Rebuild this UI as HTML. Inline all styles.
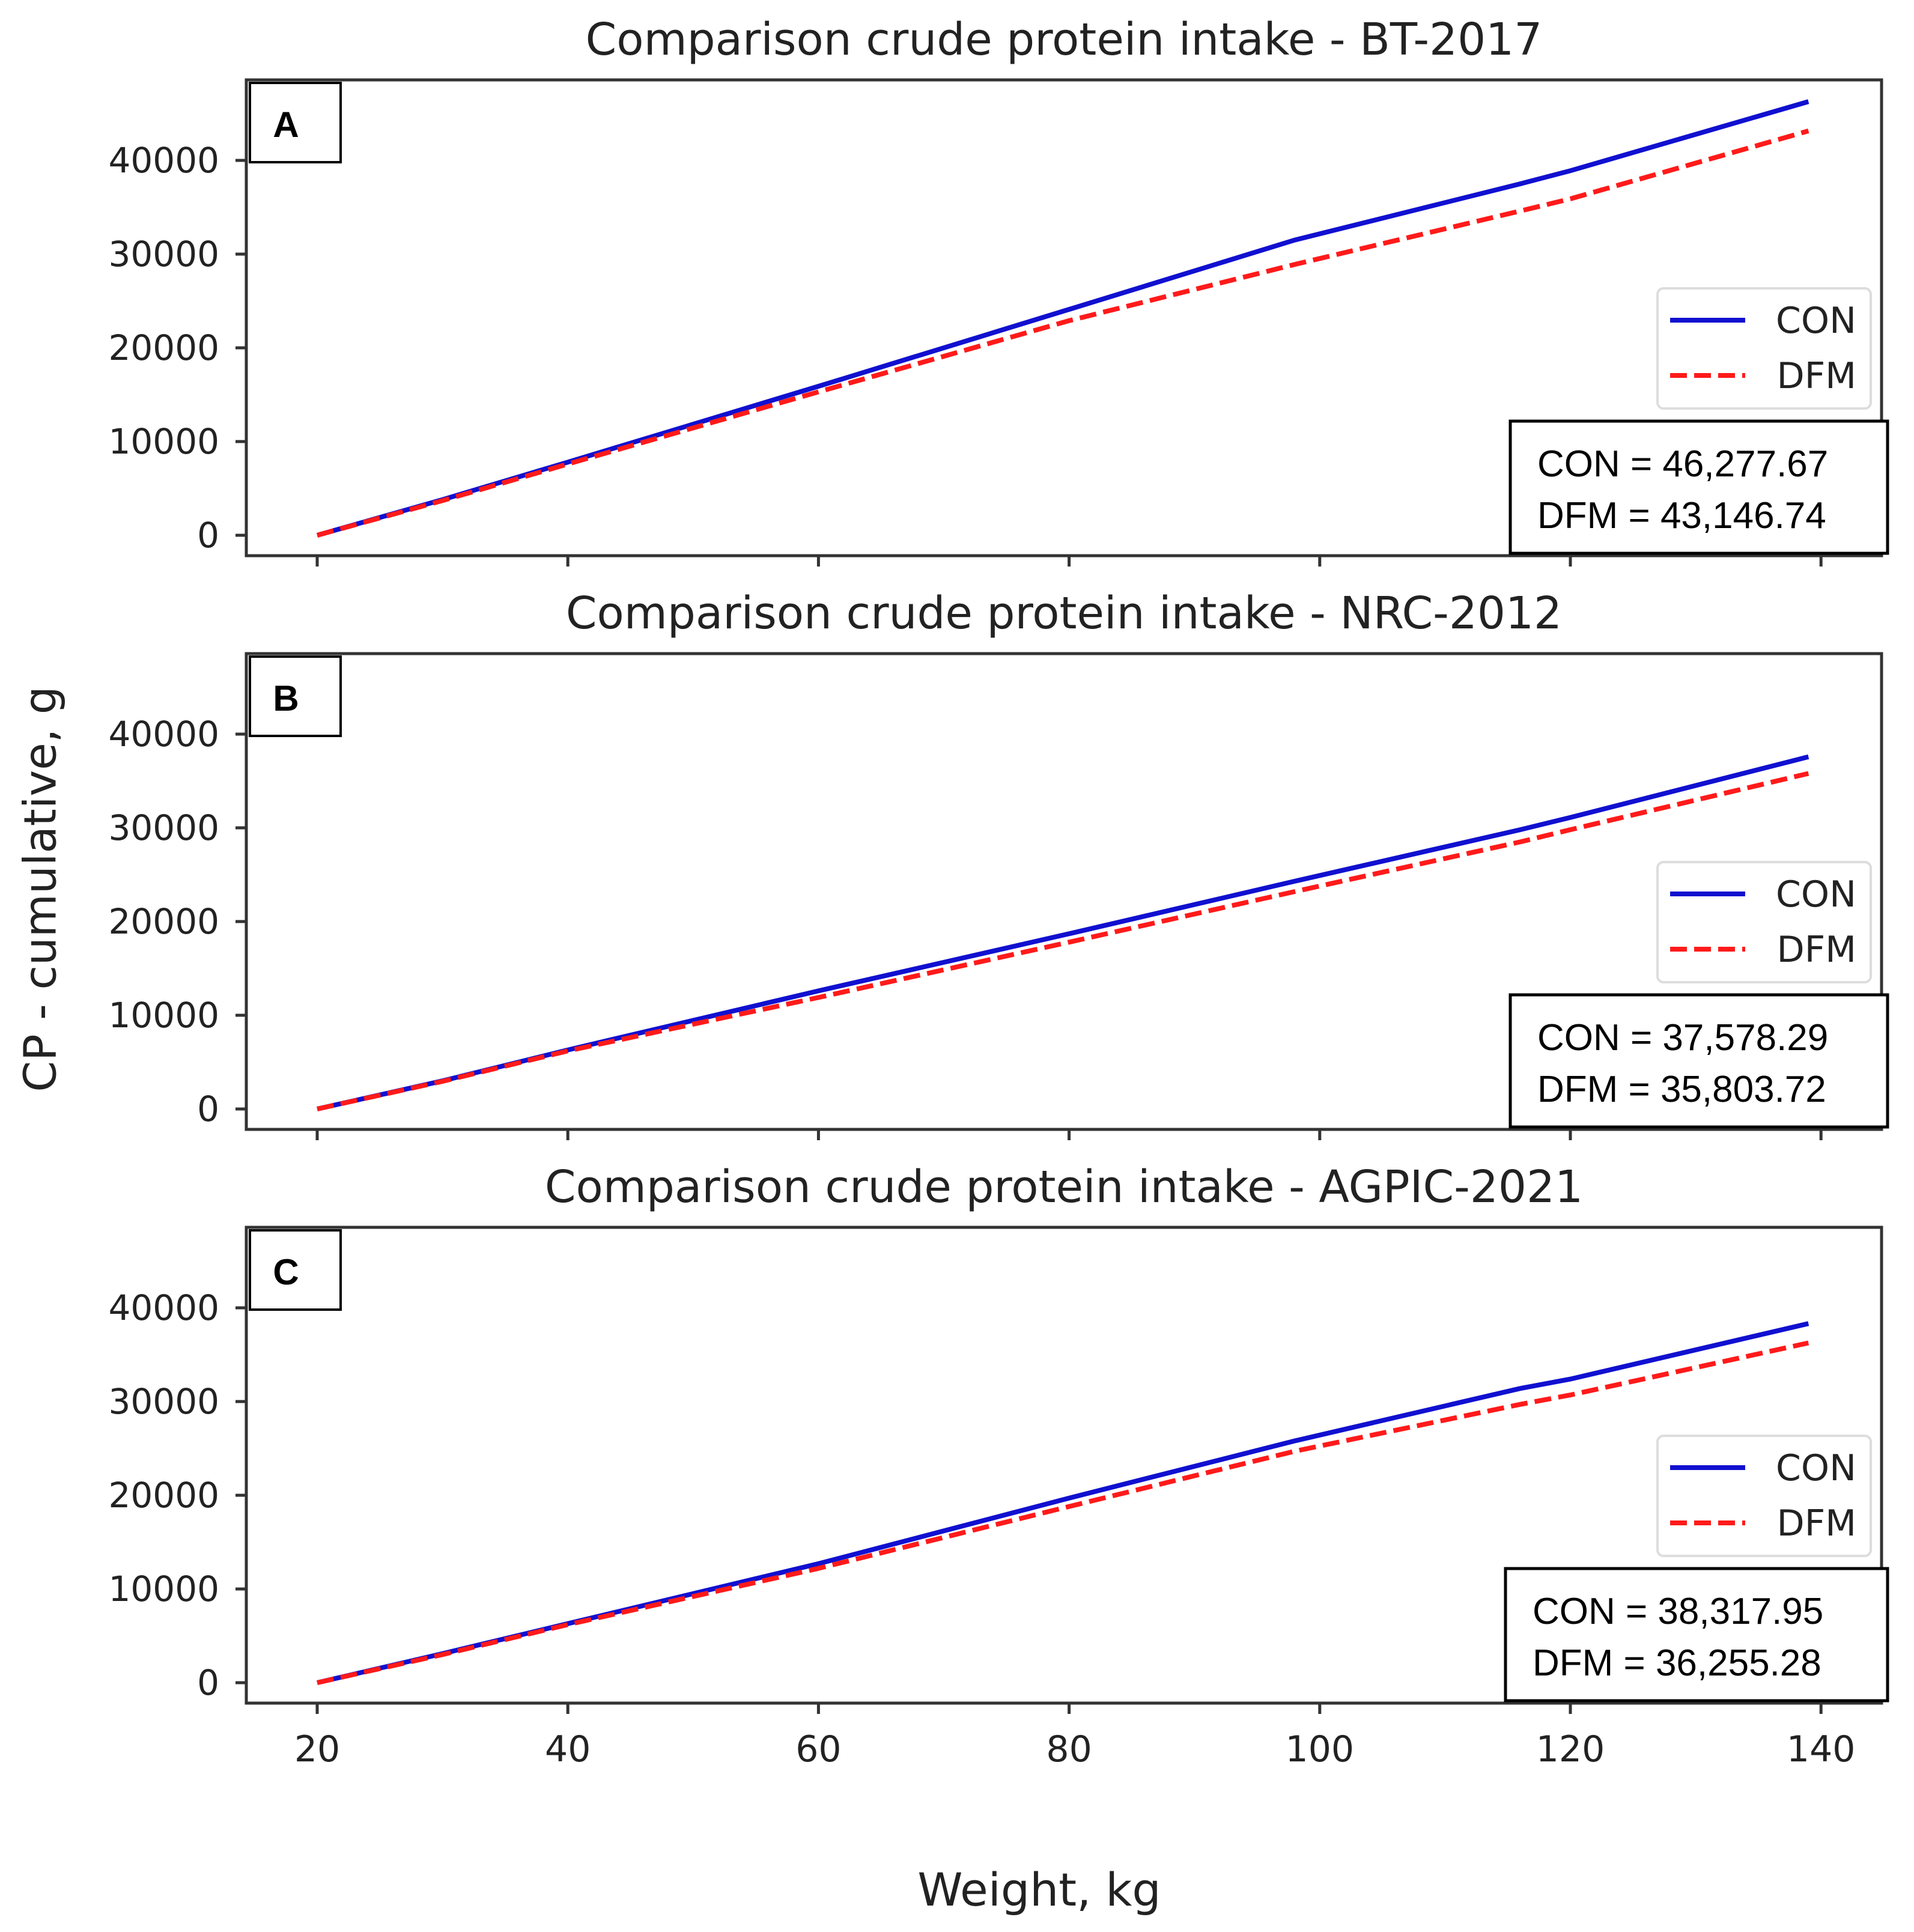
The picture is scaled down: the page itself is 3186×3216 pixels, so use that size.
<!DOCTYPE html>
<html><head><meta charset="utf-8">
<style>
html,body{margin:0;padding:0;background:#fff;}
svg{display:block;}
text{font-family:"DejaVu Sans","Liberation Sans",sans-serif;fill:#222;}
</style></head>
<body>
<svg id="chart" width="3186" height="3216" viewBox="0 0 3186 3216" xmlns="http://www.w3.org/2000/svg">
<rect width="3186" height="3216" fill="#fff"/>
<text x="72" y="1480" font-size="74" text-anchor="middle" transform="rotate(-90 72 1480)" dominant-baseline="middle">CP - cumulative, g</text>
<text x="1730" y="3172" font-size="76" text-anchor="middle">Weight, kg</text>
<g id="panels"></g>
</svg>
<script>
const panelTitles = ["Comparison crude protein intake - BT-2017","Comparison crude protein intake - NRC-2012","Comparison crude protein intake - AGPIC-2021"];
const panelLetters = ["A","B","C"];
const weights = [20, 30, 40, 60, 80, 98, 116, 120, 139];
const conA = [0, 3800, 7800, 15900, 24100, 31500, 37500, 38900, 46277.67];
const dfmA = [0, 3700, 7600, 15300, 22900, 28900, 34600, 35900, 43146.74];
const conB = [0, 3000, 6300, 12600, 18700, 24300, 29800, 31100, 37578.29];
const dfmB = [0, 2950, 6200, 11900, 17800, 23200, 28500, 29800, 35803.72];
const conC = [0, 3100, 6300, 12700, 19700, 25800, 31400, 32400, 38317.95];
const dfmC = [0, 3000, 6200, 12200, 18800, 24700, 29700, 30700, 36255.28];
const statCon = ["CON = 46,277.67","CON = 37,578.29","CON = 38,317.95"];
const statDfm = ["DFM = 43,146.74","DFM = 35,803.72","DFM = 36,255.28"];
const yTicks = [0, 10000, 20000, 30000, 40000];
const xTicks = [20, 40, 60, 80, 100, 120, 140];
const conSeries = [conA, conB, conC];
const dfmSeries = [dfmA, dfmB, dfmC];

const NS = "http://www.w3.org/2000/svg";
const L = 410, R = 3132, H = 792;
const tops = [133, 1088, 2043];
const yMin = -2180, yMax = 48590;
function xs(v){ return 528 + (v - 20) * (417.2 / 20); }
function ys(top, v){ return top + H - (v - yMin) / (yMax - yMin) * H; }
function mk(tag, attrs, parent){ const e = document.createElementNS(NS, tag); for (const k in attrs) e.setAttribute(k, attrs[k]); parent.appendChild(e); return e; }
const root = document.getElementById("panels");

tops.forEach((top, p) => {
  const g = mk("g", {}, root);
  
  
  const t = mk("text", {x: (L+R)/2, y: top - 42, "font-size": 74, "text-anchor": "middle"}, g);
  t.textContent = panelTitles[p];
  
  
  yTicks.forEach(v => {
    const y = ys(top, v);
    const tk = mk("line", {x1: L-18, x2: L, y1: y, y2: y, stroke: "#333", "stroke-width": 5}, g);
    
    
    const lb = mk("text", {x: 365, y: y, "font-size": 58, "text-anchor": "end", "dominant-baseline": "central"}, g);
    lb.textContent = v;
    
    
  });
  xTicks.forEach(v => {
    const x = xs(v);
    const tk = mk("line", {x1: x, x2: x, y1: top+H, y2: top+H+18, stroke: "#333", "stroke-width": 5}, g);
    
    
    if (p === 2) {
      const lb = mk("text", {x: x, y: top+H+97, "font-size": 60, "text-anchor": "middle"}, g);
      lb.textContent = v;
      
      
    }
  });
  const mkPath = (arr) => weights.map((w,i) => (i ? "L" : "M") + xs(w).toFixed(1) + "," + ys(top, arr[i]).toFixed(1)).join(" ");
  const con = mk("path", {d: mkPath(conSeries[p]), fill: "none", stroke: "#1010d0", "stroke-width": 8}, g);
  
  
  const dfm = mk("path", {d: mkPath(dfmSeries[p]), fill: "none", stroke: "#ff1a1a", "stroke-width": 8, "stroke-dasharray": "28 12"}, g);
  
  
  const frame = mk("rect", {x: L, y: top, width: R-L, height: H, fill: "none", stroke: "#333", "stroke-width": 5}, g);
  
  
  const lbox = mk("rect", {x: 416, y: top+5, width: 151, height: 132, fill: "#fff", stroke: "#000", "stroke-width": 4}, g);
  
  
  const lt = mk("text", {x: 476, y: top+95, "font-size": 60, "font-weight": "bold", "text-anchor": "middle", style: "font-family:'Liberation Sans',sans-serif;fill:#000"}, g);
  lt.textContent = panelLetters[p];
  
  
  const leg = mk("rect", {x: 2759, y: top+347, width: 355, height: 200, rx: 10, fill: "#fff", stroke: "#ddd", "stroke-width": 4}, g);
  
  
  const l1 = mk("line", {x1: 2780, x2: 2905, y1: top+400, y2: top+400, stroke: "#1010d0", "stroke-width": 8}, g);
  
  
  const t1 = mk("text", {x: 3090, y: top+421, "font-size": 60, "text-anchor": "end"}, g);
  t1.textContent = "CON";
  
  
  const l2 = mk("line", {x1: 2780, x2: 2905, y1: top+492, y2: top+492, stroke: "#ff1a1a", "stroke-width": 8, "stroke-dasharray": "28 12"}, g);
  
  
  const t2 = mk("text", {x: 3090, y: top+513, "font-size": 60, "text-anchor": "end"}, g);
  t2.textContent = "DFM";
  
  
  const sx = p === 2 ? 2506 : 2514;
  const sb = mk("rect", {x: sx, y: top+568, width: 3142-sx, height: 220, fill: "#fff", stroke: "#000", "stroke-width": 5}, g);
  
  
  const s1 = mk("text", {x: sx+45, y: top+660, "font-size": 62, style: "font-family:'Liberation Sans',sans-serif;fill:#000"}, g);
  s1.textContent = statCon[p];
  
  
  const s2 = mk("text", {x: sx+45, y: top+746, "font-size": 62, style: "font-family:'Liberation Sans',sans-serif;fill:#000"}, g);
  s2.textContent = statDfm[p];
  
  
});
</script>
</body></html>
